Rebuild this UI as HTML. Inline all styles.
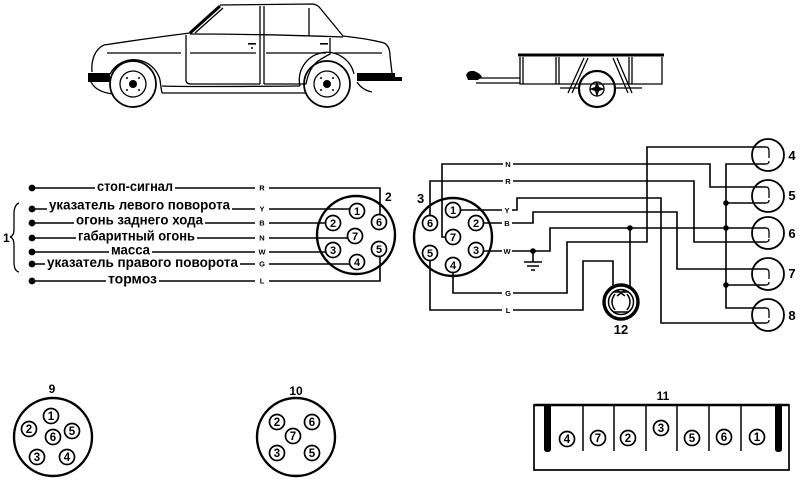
<!DOCTYPE html>
<html><head><meta charset="utf-8"><style>
html,body{margin:0;padding:0;background:#fff;}
svg{display:block;}
text{font-family:"Liberation Sans","DejaVu Sans",sans-serif;font-weight:bold;fill:#000;}
</style></head><body>
<svg width="800" height="482" viewBox="0 0 800 482" xmlns="http://www.w3.org/2000/svg">
<rect width="800" height="482" fill="#fff"/>

<!-- ===== CAR ===== -->
<g fill="none" stroke="#000" stroke-width="1.3" stroke-linejoin="round">
  <path d="M92,72 C91,60 95,49 104,45 Q150,38 190,33"/>
  <path d="M190,33 L220,6" stroke-width="3"/>
  <path d="M220,5 L313,4 Q318,5 320,8 L343,36 Q370,39 384,43 Q390,46 390,56 L392,73"/>
  <path d="M190,34 Q260,34 343,37"/>
  <path d="M195,33 L223,8"/>
  <path d="M260,6 V84 M264,6 V84" />
  <path d="M309,8 V36"/>
  <path d="M186,35 V80 Q186,84 191,84 H260"/>
  <path d="M264,84 H306 Q309,68 318,61 Q326,56 330,54 V38"/>
  <path d="M107,53 H181 M190,53 H256 M266,53 H326 M334,53 H382"/>
  <path d="M162,86 Q180,87 300,86"/>
  <path d="M162,93 H306"/>
  <path d="M110,74 A27,27 0 0 1 160,80 Q161,88 162,93"/>
  <path d="M300,86 A27,27 0 0 1 354,74"/>
  <path d="M91,82 Q96,92 113,94"/>
  <path d="M357,82 Q362,90 372,92"/>
  <circle cx="133" cy="84" r="23" stroke-width="1.7"/>
  <circle cx="133" cy="84" r="13"/>
  <circle cx="327" cy="84" r="23" stroke-width="1.7"/>
  <circle cx="327" cy="84" r="13"/>
</g>
<g fill="#000">
  <rect x="88" y="73" width="22" height="9"/>
  <rect x="357" y="73" width="38" height="8"/>
  <rect x="395" y="77" width="7" height="4"/>
  <circle cx="133" cy="84" r="4"/><circle cx="327" cy="84" r="4"/>
  <circle cx="127" cy="78" r="1"/><circle cx="139" cy="78" r="1"/><circle cx="127" cy="90" r="1"/><circle cx="139" cy="90" r="1"/>
  <circle cx="321" cy="78" r="1"/><circle cx="333" cy="78" r="1"/><circle cx="321" cy="90" r="1"/><circle cx="333" cy="90" r="1"/>
  <rect x="248" y="43" width="8" height="1.6"/><circle cx="252" cy="48" r="1"/>
  <rect x="320" y="43" width="8" height="1.6"/>
</g>

<!-- ===== TRAILER ===== -->
<g fill="none" stroke="#000" stroke-width="1.3">
  <path d="M518,55 H664" stroke-width="3"/>
  <path d="M520,57 V84 H662 V57"/>
  <path d="M523,57 V84 M556,57 V84 M559,57 V84 M629,57 V84 M632,57 V84"/>
  <path d="M476,78 H520 M476,83 H520"/>
  <path d="M584,58 L568,93 M588,58 L572,93 M613,58 L628,93 M617,58 L632,93"/>
  <path d="M560,88 H580 M614,88 H642"/>
  <circle cx="597" cy="89" r="18" stroke-width="2.2"/>
  <circle cx="597" cy="89" r="7"/>
</g>
<g fill="#000">
  <path d="M466,75 Q468,70 474,71 Q480,73 482,77 L478,80 L468,80 Z"/>
  <path d="M597,81 L599,87 L605,89 L599,91 L597,97 L595,91 L589,89 L595,87 Z"/>
</g>

<!-- ===== LEFT WIRING ===== -->
<g fill="none" stroke="#000" stroke-width="1.6">
  <path d="M32,188 H95 M175,188 H255 M269,188 H380 V215"/>
  <path d="M32,209 H47 M232,209 H255 M269,209 H350"/>
  <path d="M32,223 H74 M205,223 H255 M269,223 H326"/>
  <path d="M32,238 H76 M197,238 H255 M269,238 H348"/>
  <path d="M32,252 H109 M152,252 H255 M269,252 H326"/>
  <path d="M32,264 H45 M240,264 H255 M269,264 H350"/>
  <path d="M32,281 H106 M159,281 H255 M269,281 H380 V256"/>
  <path d="M19,203 Q14,205 14,214 V229 Q14,236 10,237 Q14,238 14,245 V262 Q14,271 19,272" stroke-width="1.3"/>
  <circle cx="356" cy="235" r="39" stroke-width="2.4"/>
</g>
<g fill="#000">
  <circle cx="32" cy="188" r="3.4"/><circle cx="32" cy="209" r="3.4"/><circle cx="32" cy="223" r="3.4"/>
  <circle cx="32" cy="238" r="3.4"/><circle cx="32" cy="252" r="3.4"/><circle cx="32" cy="264" r="3.4"/><circle cx="32" cy="281" r="3.4"/>
</g>
<g font-size="13.5">
  <text x="97" y="191" textLength="76" lengthAdjust="spacingAndGlyphs">стоп-сигнал</text>
  <text x="49" y="209.5" textLength="181" lengthAdjust="spacingAndGlyphs">указатель левого поворота</text>
  <text x="76" y="224.5" textLength="127" lengthAdjust="spacingAndGlyphs">огонь заднего хода</text>
  <text x="78" y="240.5" textLength="117" lengthAdjust="spacingAndGlyphs">габаритный огонь</text>
  <text x="111" y="254.5" textLength="39" lengthAdjust="spacingAndGlyphs">масса</text>
  <text x="47" y="267" textLength="191" lengthAdjust="spacingAndGlyphs">указатель правого поворота</text>
  <text x="108" y="283.5" textLength="49" lengthAdjust="spacingAndGlyphs">тормоз</text>
</g>
<g font-size="7.5" text-anchor="middle">
  <text x="262" y="190.5">R</text><text x="262" y="211.5">Y</text><text x="262" y="225.5">B</text>
  <text x="262" y="240.5">N</text><text x="262" y="254.5">W</text><text x="262" y="266.5">G</text><text x="262" y="283.5">L</text>
</g>
<text x="3" y="242" font-size="12">1</text>
<text x="385" y="201" font-size="12">2</text>

<!-- connector 2 pins -->
<g fill="#fff" stroke="#000" stroke-width="1.7">
  <circle cx="357" cy="211" r="7.5"/><circle cx="379" cy="222" r="7.5"/><circle cx="333" cy="223" r="7.5"/>
  <circle cx="355" cy="236" r="7.5"/><circle cx="333" cy="250" r="7.5"/><circle cx="379" cy="249" r="7.5"/><circle cx="357" cy="262" r="7.5"/>
</g>
<g font-size="11" text-anchor="middle">
  <text x="357" y="215">1</text><text x="379" y="226">6</text><text x="333" y="227">2</text>
  <text x="355" y="240">7</text><text x="333" y="254">3</text><text x="379" y="253">5</text><text x="357" y="266">4</text>
</g>

<!-- ===== RIGHT WIRING ===== -->
<g fill="none" stroke="#000" stroke-width="1.6">
  <path d="M446,237 H442 V164 H503 M513,164 H710 V187 H766"/>
  <path d="M430,216 V181 H503 M513,181 H694 V242 H766"/>
  <path d="M460,210 H502 M512,210 H517 V198 H661 V323 H766"/>
  <path d="M483,223 H502 M512,223 H533 V212 H677 V269 H766"/>
  <path d="M483,251 H502 M512,251 H550 V228 H766"/>
  <path d="M453,272 V293 H502 M513,293 H567 V242 H647 V147 H766"/>
  <path d="M430,260 V310 H502 M513,310 H583 V261 H613 V286"/>
  <path d="M630,228 V286"/>
  <path d="M766,164 H726 V308 H766 M726,203 H766 M726,285 H766"/>
  <path d="M533,251 V262 M524,262 H542 M527,266 H539 M531,270 H535"/>
  <circle cx="453" cy="237" r="39" stroke-width="2.4"/>
  <!-- lamps -->
  <circle cx="768" cy="155" r="16" stroke-width="1.8"/>
  <circle cx="768" cy="196" r="16" stroke-width="1.8"/>
  <circle cx="768" cy="233" r="16" stroke-width="1.8"/>
  <circle cx="768" cy="274" r="16" stroke-width="1.8"/>
  <circle cx="768" cy="315" r="16" stroke-width="1.8"/>
  <path d="M766,147 Q769,147 769,151 V158 M766,164 Q769,164 769,161" stroke-width="1.3"/>
  <path d="M766,187 Q769,187 769,191 V198 M766,203 Q769,203 769,200" stroke-width="1.3"/>
  <path d="M766,228 Q769,228 769,232 V238 M766,242 Q769,242 769,239" stroke-width="1.3"/>
  <path d="M766,269 Q769,269 769,273 V279 M766,285 Q769,285 769,282" stroke-width="1.3"/>
  <path d="M766,308 Q769,308 769,312 V318 M766,323 Q769,323 769,320" stroke-width="1.3"/>
  <!-- brake drum 12 -->
  <circle cx="621" cy="302" r="17" stroke-width="3.4"/>
  <circle cx="621" cy="302" r="12.5" stroke-width="1.5"/>
  <path d="M615,294 Q609,302 615,310 M627,294 Q633,302 627,310 M613,292 L629,292 M613,312 L629,312 M617,290 L625,296 M625,290 L617,296" stroke-width="1.5"/>
</g>
<g fill="#000">
  <circle cx="533" cy="251" r="2.8"/>
  <circle cx="630" cy="228" r="2.8"/>
  <circle cx="726" cy="203" r="2.8"/><circle cx="726" cy="228" r="2.8"/><circle cx="726" cy="285" r="2.8"/>
</g>
<g font-size="7.5" text-anchor="middle">
  <text x="508" y="167">N</text><text x="508" y="184">R</text><text x="507" y="213">Y</text>
  <text x="507" y="226">B</text><text x="507" y="254">W</text><text x="508" y="296">G</text><text x="508" y="313">L</text>
</g>
<text x="417" y="203" font-size="13">3</text>
<g font-size="13" text-anchor="middle">
  <text x="792" y="160">4</text><text x="792" y="200">5</text><text x="792" y="238">6</text>
  <text x="792" y="278">7</text><text x="792" y="320">8</text>
  <text x="621" y="334">12</text>
</g>
<!-- connector 3 pins -->
<g fill="#fff" stroke="#000" stroke-width="1.7">
  <circle cx="453" cy="210" r="7.5"/><circle cx="476" cy="223" r="7.5"/><circle cx="430" cy="223" r="7.5"/>
  <circle cx="453" cy="237" r="7.5"/><circle cx="476" cy="250" r="7.5"/><circle cx="430" cy="253" r="7.5"/><circle cx="453" cy="265" r="7.5"/>
</g>
<g font-size="11" text-anchor="middle">
  <text x="453" y="214">1</text><text x="476" y="227">2</text><text x="430" y="227">6</text>
  <text x="453" y="241">7</text><text x="476" y="254">3</text><text x="430" y="257">5</text><text x="453" y="269">4</text>
</g>

<!-- ===== BOTTOM CONNECTORS ===== -->
<g fill="none" stroke="#000" stroke-width="2.4">
  <circle cx="53" cy="437" r="39"/>
  <circle cx="296" cy="437" r="39"/>
</g>
<g fill="#fff" stroke="#000" stroke-width="1.7">
  <circle cx="51" cy="416" r="7.5"/><circle cx="29" cy="429" r="7.5"/><circle cx="72" cy="431" r="7.5"/>
  <circle cx="53" cy="437" r="7.5"/><circle cx="37" cy="457" r="7.5"/><circle cx="67" cy="457" r="7.5"/>
  <circle cx="277" cy="422" r="7.5"/><circle cx="312" cy="422" r="7.5"/><circle cx="293" cy="436" r="7.5"/>
  <circle cx="277" cy="453" r="7.5"/><circle cx="312" cy="453" r="7.5"/>
</g>
<g font-size="11.5" text-anchor="middle">
  <text x="51" y="420">1</text><text x="29" y="433">2</text><text x="72" y="435">5</text>
  <text x="53" y="441">6</text><text x="37" y="461">3</text><text x="67" y="461">4</text>
  <text x="277" y="426">2</text><text x="312" y="426">6</text><text x="293" y="440">7</text>
  <text x="277" y="457">3</text><text x="312" y="457">5</text>
</g>
<g font-size="12" text-anchor="middle">
  <text x="52" y="393">9</text>
  <text x="296" y="395">10</text>
  <text x="663" y="400">11</text>
</g>

<!-- connector 11 -->
<g fill="none" stroke="#000">
  <rect x="534" y="405" width="255" height="65" stroke-width="1.7"/>
  <path d="M534,405 H789" stroke-width="2.5"/>
  <path d="M583,405 V451 M614,405 V451 M646,405 V451 M677,405 V451 M709,405 V451 M741,405 V451" stroke-width="1.5"/>
</g>
<g fill="#000">
  <path d="M544,406 H551 V449 Q551,452 547.5,452 Q544,452 544,449 Z"/>
  <path d="M775,406 H782 V449 Q782,452 778.5,452 Q775,452 775,449 Z"/>
</g>
<g fill="#fff" stroke="#000" stroke-width="1.7">
  <circle cx="567" cy="439" r="7.5"/><circle cx="598" cy="438" r="7.5"/><circle cx="628" cy="438" r="7.5"/>
  <circle cx="661" cy="428" r="7.5"/><circle cx="692" cy="438" r="7.5"/><circle cx="724" cy="437" r="7.5"/><circle cx="757" cy="437" r="7.5"/>
</g>
<g font-size="11.5" text-anchor="middle">
  <text x="567" y="443">4</text><text x="598" y="442">7</text><text x="628" y="442">2</text>
  <text x="661" y="432">3</text><text x="692" y="442">5</text><text x="724" y="441">6</text><text x="757" y="441">1</text>
</g>
</svg>
</body></html>
